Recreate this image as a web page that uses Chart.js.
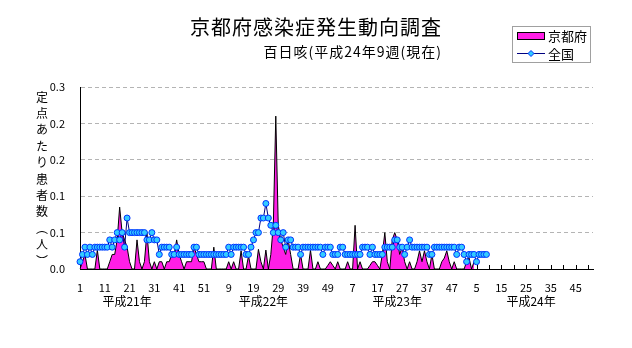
<!DOCTYPE html>
<html>
<head>
<meta charset="utf-8">
<script src="https://cdn.jsdelivr.net/npm/chart.js@4.4.0/dist/chart.umd.min.js"></script>
<style>
  body { margin: 0; background: #fff; }
  canvas { display: block; }
</style>
</head>
<body>
<canvas id="chart" width="632" height="348"></canvas>
<script>
// titles / legend
const titleText = '京都府感染症発生動向調査';
const subTitleText = '百日咳(平成24年9週(現在)';
const yTitleChars = ['定','点','あ','た','り','患','者','数','︵','人','︶'];

// x axis: 4 years of 52 weeks
const yearNames = ['平成21年', '平成22年', '平成23年', '平成24年'];
const yearLabelAt = [19, 74, 128, 182];   // week index under which the year name sits
const weeksPerYear = 52;

// y axis tick text (0.05 steps shown with one decimal)
const yTickLabels = ['0.0', '0.1', '0.1', '0.2', '0.2', '0.3'];

// 京都府 (per sentinel)
const kyoto = [
  0, 0.01, 0.02, 0, 0, 0, 0, 0.026, 0, 0,
  0, 0, 0.01, 0.02, 0.02, 0.04, 0.085, 0.05, 0.04, 0.03,
  0.01, 0, 0, 0.04, 0.01, 0, 0.01, 0.05, 0.01, 0,
  0.01, 0, 0.01, 0.01, 0, 0.01, 0.01, 0.02, 0.02, 0.04,
  0.02, 0.01, 0, 0.01, 0.01, 0.01, 0.03, 0.02, 0.01, 0.01,
  0.01, 0, 0, 0, 0.03, 0, 0, 0, 0, 0,
  0.01, 0, 0.01, 0, 0, 0.025, 0, 0, 0.018, 0,
  0, 0, 0.027, 0.01, 0, 0.026, 0, 0.02, 0.06, 0.21,
  0.06, 0.04, 0.03, 0.02, 0.04, 0.02, 0, 0, 0, 0.02,
  0, 0, 0, 0.026, 0, 0, 0.01, 0, 0, 0,
  0.005, 0.01, 0.005, 0, 0.01, 0, 0, 0, 0.01, 0,
  0, 0.06, 0, 0.01, 0, 0, 0, 0.005, 0.01, 0.01,
  0.005, 0, 0.02, 0.05, 0.01, 0, 0.04, 0.05, 0.04, 0.02,
  0.03, 0.01, 0, 0.01, 0, 0, 0.01, 0.025, 0.01, 0.025,
  0.01, 0, 0.02, 0, 0, 0, 0.01, 0.015, 0.025, 0.01,
  0, 0.01, 0, 0, 0, 0, 0.01, 0.015, 0, 0.01
];

// 全国 (per sentinel)
const zenkoku = [
  0.01, 0.02, 0.03, 0.02, 0.03, 0.02, 0.03, 0.03, 0.03, 0.03,
  0.03, 0.03, 0.04, 0.03, 0.04, 0.05, 0.04, 0.05, 0.03, 0.07,
  0.05, 0.05, 0.05, 0.05, 0.05, 0.05, 0.05, 0.04, 0.04, 0.05,
  0.04, 0.04, 0.02, 0.03, 0.03, 0.03, 0.03, 0.02, 0.02, 0.03,
  0.02, 0.02, 0.02, 0.02, 0.02, 0.02, 0.03, 0.03, 0.02, 0.02,
  0.02, 0.02, 0.02, 0.02, 0.02, 0.02, 0.02, 0.02, 0.02, 0.02,
  0.03, 0.02, 0.03, 0.03, 0.03, 0.03, 0.03, 0.02, 0.02, 0.03,
  0.04, 0.05, 0.05, 0.07, 0.07, 0.09, 0.07, 0.06, 0.05, 0.06,
  0.05, 0.04, 0.05, 0.03, 0.04, 0.04, 0.03, 0.03, 0.03, 0.02,
  0.03, 0.03, 0.03, 0.03, 0.03, 0.03, 0.03, 0.03, 0.02, 0.03,
  0.03, 0.03, 0.02, 0.02, 0.02, 0.03, 0.03, 0.02, 0.02, 0.02,
  0.02, 0.02, 0.02, 0.02, 0.03, 0.03, 0.03, 0.02, 0.03, 0.02,
  0.02, 0.02, 0.02, 0.03, 0.03, 0.03, 0.03, 0.04, 0.04, 0.03,
  0.03, 0.02, 0.03, 0.04, 0.03, 0.03, 0.03, 0.03, 0.03, 0.03,
  0.03, 0.02, 0.02, 0.03, 0.03, 0.03, 0.03, 0.03, 0.03, 0.03,
  0.03, 0.03, 0.02, 0.03, 0.03, 0.02, 0.01, 0.02, 0.02, 0.02,
  0.01, 0.02, 0.02, 0.02, 0.02
];

const weekLabels = [];
for (let y = 0; y < yearNames.length; y++) {
  for (let w = 1; w <= weeksPerYear; w++) weekLabels.push(String(w));
}

const FONT = '"Noto Sans CJK JP", "Noto Sans", sans-serif';
const PINK = '#ff1ee6';

// titles, legend, vertical y title, year names, inner tick marks
const decor = {
  id: 'decor',
  afterDatasetsDraw(chart) {
    const ctx = chart.ctx;
    const xs = chart.scales.x;
    const area = chart.chartArea;
    ctx.save();
    ctx.fillStyle = '#000';

    // tick marks (only visible past the data)
    ctx.strokeStyle = '#000';
    ctx.lineWidth = 1;
    for (let i = 0; i < weekLabels.length; i += 5) {
      if (i < kyoto.length) continue;
      const x = Math.round(xs.getPixelForValue(i)) + 0.5;
      ctx.beginPath();
      ctx.moveTo(x, area.bottom);
      ctx.lineTo(x, area.bottom - 4);
      ctx.stroke();
    }

    // title
    ctx.textBaseline = 'middle';
    ctx.textAlign = 'center';
    ctx.letterSpacing = '1px';
    ctx.font = '20px ' + FONT;
    ctx.fillText(titleText, 316, 27);
    ctx.textAlign = 'right';
    ctx.font = '14px ' + FONT;
    ctx.fillText(subTitleText, 442, 52);
    ctx.letterSpacing = '0px';

    // y title, stacked
    ctx.textAlign = 'center';
    ctx.font = '12px ' + FONT;
    yTitleChars.forEach((c, k) => ctx.fillText(c, 42, 97 + k * 16.4));

    // year names
    ctx.font = '12px ' + FONT;
    yearNames.forEach((t, k) => ctx.fillText(t, xs.getPixelForValue(yearLabelAt[k]), 301));

    // legend
    ctx.fillStyle = '#fff';
    ctx.fillRect(512, 26, 78, 36);
    ctx.strokeStyle = '#a0a0a0';
    ctx.strokeRect(512.5, 26.5, 78, 36);
    ctx.fillStyle = PINK;
    ctx.fillRect(518, 33, 26, 6);
    ctx.strokeStyle = '#000';
    ctx.strokeRect(517.5, 32.5, 27, 7);
    ctx.strokeStyle = '#000080';
    ctx.beginPath();
    ctx.moveTo(517, 53.5);
    ctx.lineTo(545, 53.5);
    ctx.stroke();
    ctx.fillStyle = '#33ccff';
    ctx.strokeStyle = '#0033ff';
    ctx.beginPath();
    ctx.moveTo(531, 50.5); ctx.lineTo(534, 53.5); ctx.lineTo(531, 56.5); ctx.lineTo(528, 53.5);
    ctx.closePath();
    ctx.fill(); ctx.stroke();
    ctx.fillStyle = '#000';
    ctx.textAlign = 'left';
    ctx.font = '13px ' + FONT;
    ctx.fillText('京都府', 548, 36);
    ctx.fillText('全国', 548, 54);
    ctx.restore();
  }
};

const ctx = document.getElementById('chart').getContext('2d');
new Chart(ctx, {
  type: 'line',
  data: {
    labels: weekLabels,
    datasets: [{
      label: '全国',
      data: zenkoku,
      borderColor: '#000080',
      borderWidth: 1,
      tension: 0,
      fill: false,
      pointStyle: 'circle',
      pointRadius: 3,
      pointBackgroundColor: '#33ccff',
      pointBorderColor: '#0033ff',
      pointBorderWidth: 1,
      clip: 6,
      order: 0
    }, {
      label: '京都府',
      data: kyoto,
      borderColor: '#000',
      borderWidth: 1,
      backgroundColor: PINK,
      tension: 0,
      fill: 'origin',
      pointRadius: 0,
      order: 1
    }]
  },
  options: {
    responsive: false,
    animation: false,
    devicePixelRatio: 1,
    layout: { padding: { top: 87, right: 39, left: 0, bottom: 0 } },
    plugins: {
      legend: { display: false },
      tooltip: { enabled: false }
    },
    scales: {
      x: {
        offset: false,
        grid: { display: false, drawTicks: false },
        border: { color: '#000', width: 1 },
        ticks: {
          autoSkip: false,
          maxRotation: 0,
          padding: 12,
          color: '#000',
          font: { family: FONT, size: 11 },
          callback: (v, i) => (i % 10 === 0 ? weekLabels[i] : null)
        },
        afterFit: s => { s.height = 79; }
      },
      y: {
        min: 0,
        max: 0.25,
        grid: {
          drawTicks: false,
          color: c => (c.tick.value === 0 ? 'rgba(0,0,0,0)' : '#b4b4b4')
        },
        border: { color: '#000', width: 1, dash: [4, 3] },
        ticks: {
          stepSize: 0.05,
          padding: 15,
          color: '#000',
          font: { family: FONT, size: 11 },
          callback: (v, i) => yTickLabels[i]
        },
        afterFit: s => { s.width = 80; }
      }
    }
  },
  plugins: [decor]
});
</script>
</body>
</html>
